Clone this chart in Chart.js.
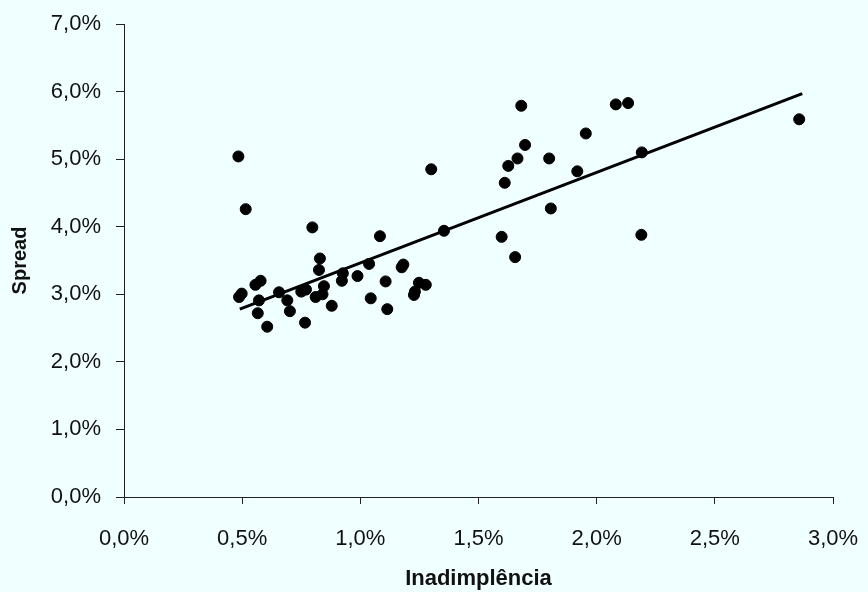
<!DOCTYPE html>
<html>
<head>
<meta charset="utf-8">
<script src="https://cdn.jsdelivr.net/npm/chart.js@4.4.0/dist/chart.umd.min.js"></script>
<style>
  html, body { margin: 0; padding: 0; background: #f0ffff; }
  #wrap { width: 868px; height: 592px; }
</style>
</head>
<body>
<div id="wrap"><canvas id="spreadChart" width="868" height="592"></canvas></div>
<script>
// Inadimplência (%) x Spread (%)
const inadimplencia = [
  0.484, 0.515, 1.30, 0.797, 1.083, 1.354, 0.829, 0.825, 1.037, 1.182,
  1.175, 0.988, 0.926, 0.922, 1.107, 1.044, 1.114, 1.248, 1.277, 1.227,
  1.231, 0.879, 0.766, 0.606, 0.566, 0.571, 0.498, 0.487, 0.578, 0.556,
  0.656, 0.691, 0.702, 0.750, 0.770, 0.811, 0.840, 0.846, 1.681, 2.081,
  2.133, 1.954, 1.697, 1.665, 1.626, 1.799, 1.611, 1.918, 2.191, 1.806,
  1.598, 2.189, 1.655, 2.857
];
const spread = [
  5.04, 4.26, 4.85, 3.99, 3.86, 3.94, 3.53, 3.36, 3.45, 3.44,
  3.40, 3.27, 3.31, 3.20, 3.19, 2.94, 2.78, 3.17, 3.14, 2.99,
  3.04, 2.83, 2.58, 2.52, 2.72, 2.91, 3.01, 2.96, 3.20, 3.14,
  3.03, 2.91, 2.75, 3.04, 3.07, 2.96, 3.00, 3.12, 5.79, 5.81,
  5.83, 5.38, 5.21, 5.01, 4.90, 5.01, 4.65, 4.82, 5.10, 4.27,
  3.85, 3.88, 3.55, 5.59
];
// trend line end points
const trendX = [0.49, 2.87];
const trendY = [2.78, 5.97];

const fmt = v => v.toFixed(1).replace('.', ',') + '%';

const bgPlugin = {
  id: 'bg',
  beforeDraw(chart) {
    const c = chart.ctx;
    c.save();
    c.fillStyle = '#f0ffff';
    c.fillRect(0, 0, chart.width, chart.height);
    c.restore();
  }
};

const ctx = document.getElementById('spreadChart').getContext('2d');
new Chart(ctx, {
  type: 'scatter',
  data: {
    datasets: [{
      label: 'Spread',
      data: inadimplencia.map((x, i) => ({ x: x, y: spread[i] })),
      backgroundColor: '#000',
      borderColor: '#000',
      pointRadius: 5.5,
      borderWidth: 1
    }, {
      type: 'line',
      label: 'Tendência',
      data: trendX.map((x, i) => ({ x: x, y: trendY[i] })),
      borderColor: '#000',
      borderWidth: 3,
      pointRadius: 0,
      fill: false
    }]
  },
  options: {
    responsive: false,
    animation: false,
    layout: { padding: { top: 24, right: 35, left: 0, bottom: 0 } },
    plugins: {
      legend: { display: false },
      tooltip: { enabled: false }
    },
    scales: {
      x: {
        type: 'linear',
        min: 0, max: 3,
        afterFit(scale) {
          scale.height = 95;
          scale.paddingLeft = 0;
          scale.paddingRight = 0;
        },
        border: { display: true, color: '#222', width: 1 },
        grid: { drawOnChartArea: false, drawTicks: true, tickLength: 7, color: '#222' },
        ticks: {
          stepSize: 0.5,
          color: '#111',
          padding: 22,
          font: { family: 'Liberation Sans, Arial, sans-serif', size: 22 },
          callback: v => fmt(v)
        },
        title: {
          display: true,
          text: 'Inadimplência',
          color: '#111',
          padding: { top: 6, bottom: 0 },
          font: { family: 'Liberation Sans, Arial, sans-serif', size: 22, weight: 'bold' }
        }
      },
      y: {
        min: 0, max: 7,
        afterFit(scale) {
          scale.width = 124;
          scale.paddingTop = 0;
          scale.paddingBottom = 0;
        },
        border: { display: true, color: '#222', width: 1 },
        grid: { drawOnChartArea: false, drawTicks: true, tickLength: 8, color: '#222' },
        ticks: {
          stepSize: 1,
          color: '#111',
          padding: 15,
          font: { family: 'Liberation Sans, Arial, sans-serif', size: 22 },
          callback: v => fmt(v)
        },
        title: {
          display: true,
          text: 'Spread',
          color: '#111',
          padding: { top: 8 },
          font: { family: 'Liberation Sans, Arial, sans-serif', size: 20, weight: 'bold' }
        }
      }
    }
  },
  plugins: [bgPlugin]
});
</script>
</body>
</html>
